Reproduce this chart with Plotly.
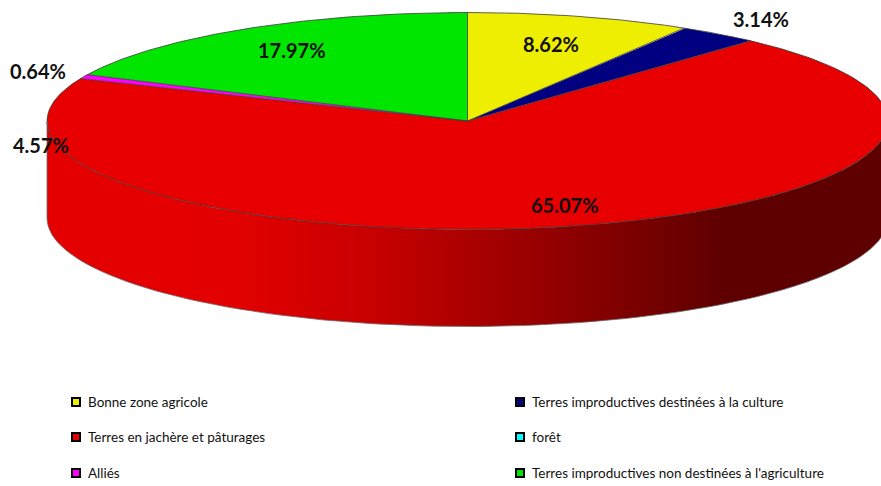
import numpy as np
import plotly.graph_objects as go

# ---------------- data ----------------
categories = [
    "Bonne zone agricole",
    "Terres improductives destinées à la culture",
    "Terres en jachère et pâturages",
    "forêt",
    "Alliés",
    "Terres improductives non destinées à l'agriculture",
]
values = [8.62, 3.14, 65.07, 4.57, 0.64, 17.97]
value_labels = ["8.62%", "3.14%", "65.07%", "4.57%", "0.64%", "17.97%"]

# ---------------- styles ----------------
legend_colors = ["#EEEE00", "#000080", "#E80000", "#00FFFF", "#FF00FF", "#00E600"]
# in the reference the forêt wedge is rendered covered by the red slice
face_colors = ["#EEEE00", "#000080", "#E80000", "#E80000", "#FF00FF", "#00E600"]

# label placement (radial factor on ellipse, extra vertical offset in px)
label_r = [0.74, 1.17, 0.66, 1.05, 1.12, 0.78]
label_dy = [0, 0, 17, 53, 0, 0]

CX, CY, RX, RY, DEPTH = 467.5, 121.0, 420.5, 108.5, 97.0
W, H = 881, 486

fig = go.Figure()

total = sum(values)
cum = np.cumsum([0] + values) / total * 360.0


def pt(t_deg, dy=0.0):
    t = np.radians(t_deg)
    return CX + RX * np.sin(t), CY - RY * np.cos(t) + dy


def shade(hexcol, f):
    r, g, b = int(hexcol[1:3], 16), int(hexcol[3:5], 16), int(hexcol[5:7], 16)
    return "rgb(%d,%d,%d)" % (r * f, g * f, b * f)


# group consecutive slices drawn in the same colour (no seam between them)
groups = []
for i in range(len(values)):
    if groups and face_colors[i] == groups[-1][2]:
        groups[-1][1] = cum[i + 1]
    else:
        groups.append([cum[i], cum[i + 1], face_colors[i]])

# ---- side walls (front part only: 90..270 deg) ----
for a0, b0, c in groups:
    a, b = max(a0, 90.0), min(b0, 270.0)
    if b <= a:
        continue
    ts = np.linspace(a, b, 300)
    xt, yt = pt(ts)
    xb, yb = pt(ts[::-1], DEPTH)
    xs = np.concatenate([xt, xb, xt[:1]])
    ys = np.concatenate([yt, yb, yt[:1]])
    fig.add_trace(go.Scatter(
        x=xs, y=ys, mode="lines", fill="toself", line=dict(width=0),
        fillcolor=c,
        fillgradient=dict(
            type="horizontal", start=CX - RX, stop=CX + RX,
            colorscale=[[0, shade(c, 0.99)], [0.22, shade(c, 0.98)],
                        [0.4, shade(c, 0.85)], [0.70, shade(c, 0.53)],
                        [0.80, shade(c, 0.41)], [1, shade(c, 0.41)]]),
        hoverinfo="skip", showlegend=False))

# ---- top faces ----
for a0, b0, c in groups:
    ts = np.linspace(a0, b0, 400)
    xa, ya = pt(ts)
    xs = np.concatenate([[CX], xa, [CX]])
    ys = np.concatenate([[CY], ya, [CY]])
    fig.add_trace(go.Scatter(
        x=xs, y=ys, mode="lines", fill="toself", line=dict(width=0),
        fillcolor=c, hoverinfo="skip", showlegend=False))

# ---- edges ----
ts = np.linspace(0, 360, 721)
ex, ey = pt(ts)
fig.add_trace(go.Scatter(x=ex, y=ey, mode="lines",
                         line=dict(color="#3a3a3a", width=0.8),
                         hoverinfo="skip", showlegend=False))
ts = np.linspace(90, 270, 361)
bx, by = pt(ts, DEPTH)
fig.add_trace(go.Scatter(x=bx, y=by, mode="lines",
                         line=dict(color="#6a6a6a", width=0.8),
                         hoverinfo="skip", showlegend=False))
lx, ly = pt(270.0)
fig.add_trace(go.Scatter(x=[lx, lx], y=[ly, ly + DEPTH], mode="lines",
                         line=dict(color="#6a6a6a", width=0.8),
                         hoverinfo="skip", showlegend=False))
for a0, b0, c in groups:
    x1, y1 = pt(a0)
    fig.add_trace(go.Scatter(x=[CX, x1], y=[CY, y1], mode="lines",
                             line=dict(color="#3a3a3a", width=0.8),
                             hoverinfo="skip", showlegend=False))

# ---- value labels ----
for i, v in enumerate(values):
    mid = (cum[i] + cum[i + 1]) / 2
    t = np.radians(mid)
    x = CX + label_r[i] * RX * np.sin(t)
    y = CY - label_r[i] * RY * np.cos(t) + label_dy[i]
    fig.add_annotation(x=x, y=y, text=value_labels[i], showarrow=False,
                       font=dict(family="Lato", size=20, color="#111111",
                                 weight="bold"),
                       xanchor="center", yanchor="middle")

# ---- legend ----
col_x = [72, 516]
row_y = [402, 437, 473]
for i, name in enumerate(categories):
    r, c = i // 2, i % 2
    x0, y0 = col_x[c], row_y[r]
    fig.add_shape(type="rect", x0=x0, x1=x0 + 8, y0=y0 - 4, y1=y0 + 4,
                  line=dict(color="black", width=2),
                  fillcolor=legend_colors[i], xref="x", yref="y")
    fig.add_annotation(x=x0 + 14, y=y0, text=name, showarrow=False,
                       xanchor="left", yanchor="middle",
                       font=dict(family="Lato", size=13.5, color="#111111"))

fig.update_layout(
    width=W, height=H,
    margin=dict(l=0, r=0, t=0, b=0),
    paper_bgcolor="white", plot_bgcolor="white",
    xaxis=dict(range=[0, W], visible=False, fixedrange=True),
    yaxis=dict(range=[H, 0], visible=False, fixedrange=True),
    showlegend=False,
)

fig.write_html(
    "out.html",
    config={"displayModeBar": False},
    post_script="document.body.style.margin='0';document.body.style.overflow='hidden';",
)
